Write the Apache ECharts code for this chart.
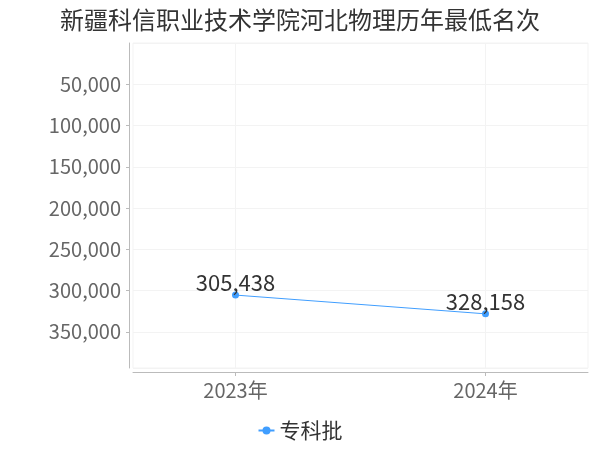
<!DOCTYPE html>
<html>
<head>
<meta charset="utf-8">
<script src="https://cdn.jsdelivr.net/npm/echarts@6/dist/echarts.min.js"></script>
<style>
  html, body { margin: 0; padding: 0; background: #fff; }
  #main { width: 600px; height: 450px; }
</style>
</head>
<body>
<div id="main"></div>
<script>
var titleText = '新疆科信职业技术学院河北物理历年最低名次';
var seriesName = '专科批';
var years = [2023, 2024];
var ranks = [305438, 328158];

var font = '"Noto Sans CJK SC", sans-serif';
var pad = 0.41;

var myChart = echarts.init(document.getElementById('main'));

var points = years.map(function (y, i) { return [y, ranks[i]]; });

myChart.setOption({
    animation: false,
    textStyle: { fontFamily: font },
    title: {
        text: titleText,
        left: 'center',
        top: 3,
        textStyle: { fontSize: 24, fontWeight: 'normal', color: '#333', fontFamily: font }
    },
    legend: {
        bottom: 4,
        left: 'center',
        itemWidth: 16,
        itemHeight: 10,
        textStyle: { fontSize: 21, color: '#333', fontFamily: font },
        data: [seriesName]
    },
    grid: {
        left: 133,
        right: 12,
        top: 43,
        bottom: 82,
        show: true,
        borderColor: '#f3f3f3',
        borderWidth: 1
    },
    xAxis: {
        type: 'value',
        position: 'bottom',
        min: years[0] - pad,
        max: years[years.length - 1] + pad,
        offset: 4,
        axisLine: { show: true, onZero: false, lineStyle: { color: '#bbb' } },
        axisTick: { show: true, length: 4, customValues: years, lineStyle: { color: '#bbb' } },
        axisLabel: {
            customValues: years,
            fontSize: 20,
            color: '#666',
            margin: 8,
            formatter: function (v) { return v + '年'; }
        },
        splitLine: { show: true, lineStyle: { color: '#f3f3f3' } }
    },
    yAxis: {
        type: 'value',
        inverse: true,
        min: 0,
        max: Math.max.apply(null, ranks) * 1.2,
        interval: 50000,
        offset: 4,
        axisLine: { show: true, onZero: false, lineStyle: { color: '#bbb' } },
        axisTick: { show: true, length: 3, lineStyle: { color: '#bbb' } },
        axisLabel: {
            fontSize: 20,
            color: '#666',
            showMinLabel: false,
            showMaxLabel: false,
            formatter: function (v) { return v.toLocaleString('en-US'); }
        },
        splitLine: { show: true, lineStyle: { color: '#f3f3f3' } }
    },
    series: [{
        name: seriesName,
        type: 'line',
        data: points,
        symbol: 'circle',
        symbolSize: 7,
        itemStyle: { color: '#409EFF' },
        lineStyle: { color: '#409EFF', width: 1 },
        label: {
            show: true,
            position: 'top',
            distance: -2,
            fontSize: 22,
            color: '#333',
            formatter: function (p) { return p.value[1].toLocaleString('en-US'); }
        }
    }]
});
</script>
</body>
</html>
